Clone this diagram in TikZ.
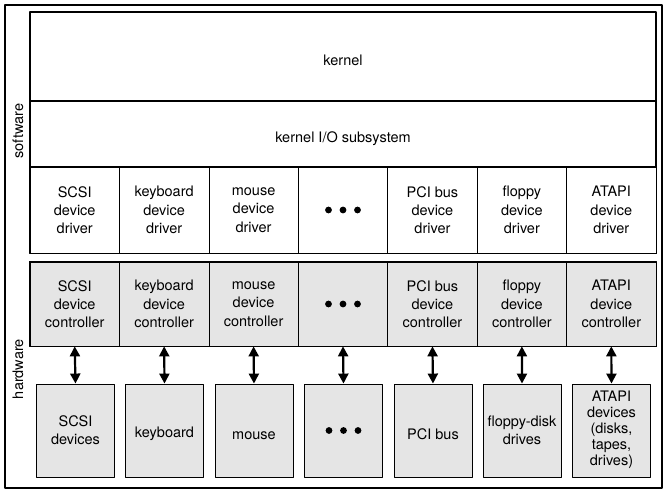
\documentclass[tikz,border=0pt]{standalone}
\usepackage{fontspec}
\setmainfont{TeX Gyre Heros}
\usetikzlibrary{arrows.meta}
\begin{document}
\begin{tikzpicture}[x=1pt,y=-1pt,line join=round,font=\fontsize{14.5}{18.3}\selectfont,
    layer/.style={draw,line width=1.3pt,minimum width=626pt,inner sep=0pt,text height=17pt,text depth=0pt},
    cell/.style={draw,line width=0.7pt,minimum width=89.43pt,inner sep=0pt,align=center,
      execute at begin node={\rule{0pt}{20.5pt}}},
    ctlcell/.style={cell,fill=black!10},
    devbox/.style={draw,line width=0.9pt,fill=black!10,minimum width=78pt,minimum height=93pt,inner sep=0pt,align=center,
      execute at begin node={\rule{0pt}{18pt}}},
    dblarrow/.style={line width=2.2pt,{Triangle[length=10pt,width=10pt]}-{Triangle[length=10pt,width=10pt]}},
    dots/.style={fill=black}]
	\def\colw{89.43}
	\def\xleft{30}
	\useasboundingbox (0,0) rectangle (664,490);
	% outer frame
	\draw [line width=1.8pt] (5,5) rectangle (662,488);
	\node [rotate=90] (sw) at (18,131) {software};
	\node [rotate=90] (hw) at (18,369) {hardware};
	% software side
	\node [layer,minimum height=89pt] (kern) at (343,56.5) {kernel};
	\node [layer,minimum height=66pt] (kio) at (343,134) {kernel I/O subsystem};
	\foreach \i/\txt in {1/SCSI,2/keyboard,3/mouse,4/,5/PCI bus,6/floppy,7/ATAPI}
		\node [cell,minimum height=86pt] (drv\i) at ({\xleft+(\i-0.5)*\colw},210)
			{\ifx\txt\empty\else\txt\\device\\driver\fi};
	\draw [line width=1.3pt] (drv1.north west) rectangle (drv7.south east);
	% hardware side
	\foreach \i/\txt in {1/SCSI,2/keyboard,3/mouse,4/,5/PCI bus,6/floppy,7/ATAPI}
		\node [ctlcell,minimum height=84pt] (ctl\i) at ({\xleft+(\i-0.5)*\colw},304)
			{\ifx\txt\empty\else\txt\\device\\controller\fi};
	\draw [line width=1.3pt] (ctl1.north west) rectangle (ctl7.south east);
	\node [devbox] (dev1) at (75.5,430.5) {SCSI\\devices};
	\node [devbox] (dev2) at (164.5,430.5) {keyboard};
	\node [devbox] (dev3) at (254,430.5) {mouse};
	\node [devbox] (dev4) at (343.5,430.5) {};
	\node [devbox] (dev5) at (433,430.5) {PCI bus};
	\node [devbox] (dev6) at (522,430.5) {floppy-disk\\drives};
	\node [devbox,execute at begin node={\strut}] (dev7) at (611.5,430.5)
		{ATAPI\\[-2.3pt]devices\\[-2.3pt](disks,\\[-2.3pt]tapes,\\[-2.3pt]drives)};
	% ellipsis dots
	\foreach \n in {drv4,ctl4,dev4}
		\fill [dots] ([xshift=-14.5pt]\n.center) circle (3.4pt)
			(\n.center) circle (3.4pt)
			([xshift=14.5pt]\n.center) circle (3.4pt);
	\foreach \i in {1,...,7}
		\draw [dblarrow] (ctl\i.south) -- (dev\i.north);
\end{tikzpicture}
\end{document}
